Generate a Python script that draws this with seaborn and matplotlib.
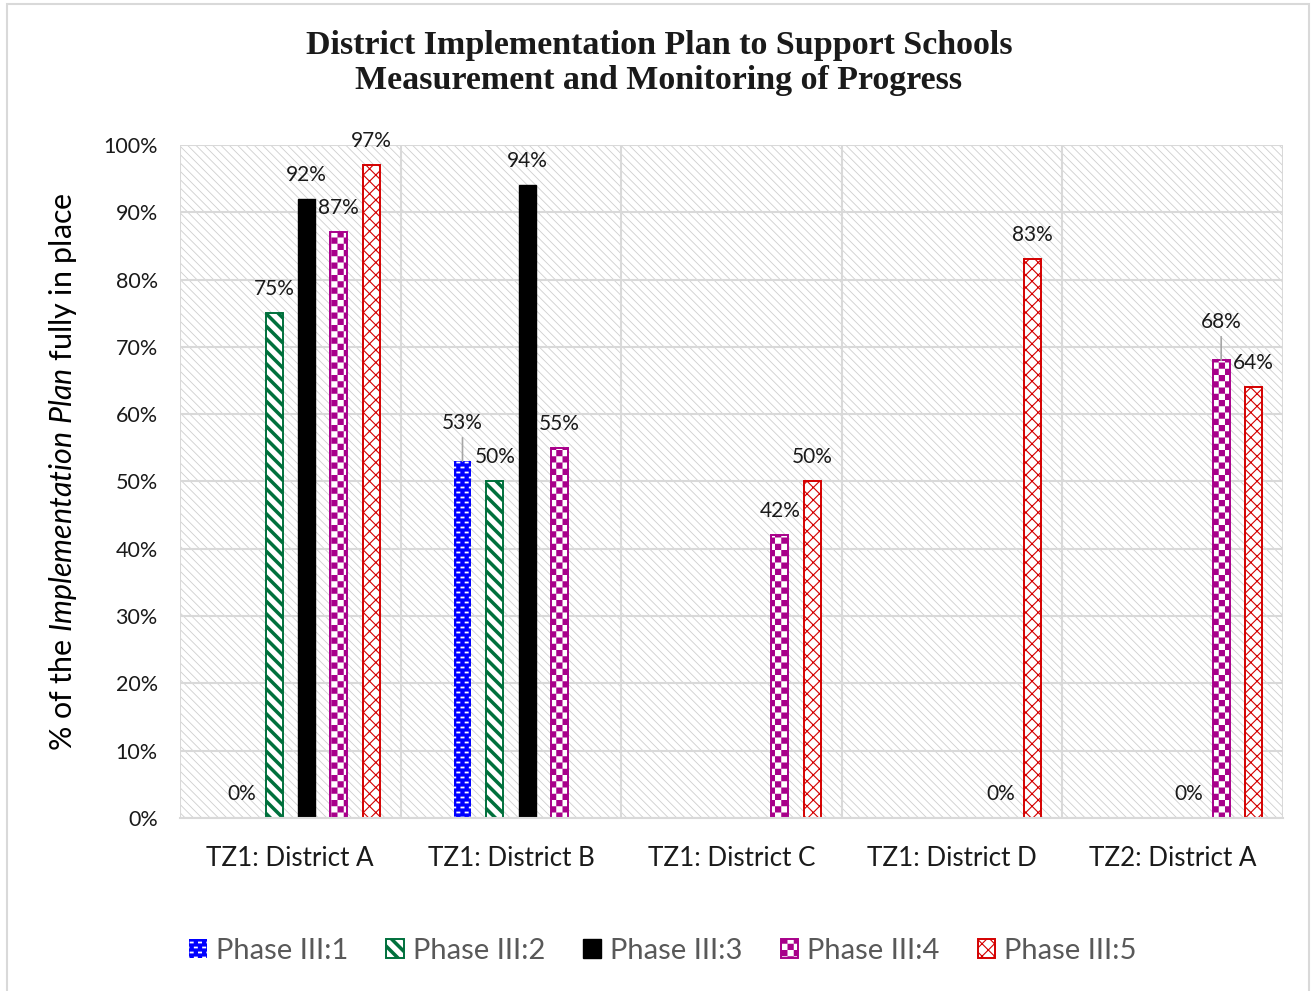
import warnings

import numpy as np
import pandas as pd
import matplotlib
matplotlib.use("Agg")
import matplotlib.pyplot as plt
import matplotlib.hatch as mhatch
from matplotlib.colors import to_rgba
from matplotlib.patches import Patch, Rectangle
from matplotlib.path import Path
from matplotlib.ticker import PercentFormatter, FixedLocator
import seaborn as sns

warnings.filterwarnings("ignore", category=matplotlib.MatplotlibDeprecationWarning)

# ---------------------------------------------------------------- data
districts = ["TZ1: District A", "TZ1: District B", "TZ1: District C",
             "TZ1: District D", "TZ2: District A"]
phases = ["Phase III:1", "Phase III:2", "Phase III:3", "Phase III:4", "Phase III:5"]
nan = np.nan
phase1 = [0, 53, nan, nan, nan]
phase2 = [75, 50, nan, nan, nan]
phase3 = [92, 94, nan, nan, 0]
phase4 = [87, 55, 42, 0, 68]
phase5 = [97, nan, 50, 83, 64]
y_ticks = list(range(0, 101, 10))

# labels that sit higher and get a leader line
callouts = {("TZ1: District B", "Phase III:1"), ("TZ2: District A", "Phase III:4")}

SPACER = "(blank)"   # empty first slot in every cluster

# ---------------------------------------------------------------- custom fill patterns
def _ccw(poly):
    poly = np.asarray(poly, float)
    x, y = poly[:, 0], poly[:, 1]
    area = 0.5 * np.sum(x * np.roll(y, -1) - np.roll(x, -1) * y)
    return poly if area > 0 else poly[::-1]


def register_hatch(key, polys):
    polys = [_ccw(p) for p in polys]
    verts = np.concatenate([np.vstack([p, p[:1]]) for p in polys])
    codes = np.tile([Path.MOVETO, Path.LINETO, Path.LINETO, Path.LINETO,
                     Path.CLOSEPOLY], len(polys)).astype(Path.code_type)

    class _Tile(mhatch.HatchPatternBase):
        def __init__(self, hatch, density):
            self.num_vertices = len(verts) if (hatch and key in hatch) else 0

        def set_vertices_and_codes(self, vertices, codes_out):
            vertices[:] = verts
            codes_out[:] = codes

    mhatch._hatch_types.append(_Tile)


def diag_bands(n, width, down=True):
    polys = []
    for j in range(-n - 2, 2 * n + 3):
        c = j / n
        if down:   # "\" direction
            polys.append([(c - 1, 1), (c, 0), (c + width, 0), (c + width - 1, 1)])
        else:      # "/" direction
            polys.append([(c, 0), (c + 1, 1), (c + 1 + width, 1), (c + width, 0)])
    return polys


def checker(n):
    s = 1.0 / n
    return [[(i * s, j * s), ((i + 1) * s, j * s), ((i + 1) * s, (j + 1) * s), (i * s, (j + 1) * s)]
            for i in range(n) for j in range(n) if (i + j) % 2 == 0]


def bricks(rows, cols, w, h):
    polys = []
    for r in range(rows):
        y = (r + 0.5) / rows - h / 2
        shift = 0.5 / cols if r % 2 else 0.0
        for c in range(-1, cols + 1):
            x = (c + 0.5) / cols + shift - w / 2
            polys.append([(x, y), (x + w, y), (x + w, y + h), (x, y + h)])
    return polys


# one hatch tile is 72 pt = 100 px at dpi 100
register_hatch("k", diag_bands(12, 0.012, down=True))                         # plot-area texture
register_hatch("g", diag_bands(8, 0.05, down=True))                           # wide downward stripes
register_hatch("r", diag_bands(8, 0.016, True) + diag_bands(8, 0.016, False))  # lattice
register_hatch("c", checker(16))                                              # checkerboard
register_hatch("b", bricks(20, 12, 0.04, 0.018))                              # small bricks

# ---------------------------------------------------------------- styles
styles = {
    "Phase III:1": dict(facecolor="#0000FF", edgecolor="white", linewidth=0, hatch="b"),
    "Phase III:2": dict(facecolor="white", edgecolor="#00703C", linewidth=1.4, hatch="g"),
    "Phase III:3": dict(facecolor="black", edgecolor="black", linewidth=1.0, hatch=None),
    "Phase III:4": dict(facecolor="white", edgecolor="#A8008A", linewidth=1.4, hatch="c"),
    "Phase III:5": dict(facecolor="white", edgecolor="#D40000", linewidth=1.4, hatch="r"),
}
palette = {SPACER: "#777777", "Phase III:1": "#0000FF", "Phase III:2": "#00703C",
           "Phase III:3": "#000000", "Phase III:4": "#A8008A", "Phase III:5": "#D40000"}

# ---------------------------------------------------------------- table
series = dict(zip(phases, [phase1, phase2, phase3, phase4, phase5]))
rows = []
for ph, vals in series.items():
    for d, v in zip(districts, vals):
        if not np.isnan(v):
            rows.append({"district": d, "phase": ph, "value": v})
df = pd.DataFrame(rows)

# ---------------------------------------------------------------- figure
sns.set_style("white")
plt.rcParams["font.family"] = ["Lato", "DejaVu Sans"]
plt.rcParams["mathtext.fontset"] = "custom"
plt.rcParams["mathtext.rm"] = "Lato"
plt.rcParams["mathtext.it"] = "Lato:italic"
plt.rcParams["hatch.linewidth"] = 0.0

fig, ax = plt.subplots(figsize=(13.11, 9.91), dpi=100)
fig.subplots_adjust(left=0.1373, right=0.9787, bottom=0.1746, top=0.8537)

sns.barplot(data=df, x="district", y="value", hue="phase", order=districts,
            hue_order=[SPACER] + phases, palette=palette, saturation=1,
            width=0.878, gap=0.474, dodge=True, errorbar=None, legend=False, ax=ax)

# restyle bars according to their series
color_to_phase = {tuple(np.round(to_rgba(palette[p]), 3)): p for p in phases}
for p in ax.patches:
    ph = color_to_phase.get(tuple(np.round(p.get_facecolor(), 3)))
    if ph is None:
        continue
    st = styles[ph]
    p.set_facecolor(st["facecolor"])
    p.set_edgecolor(st["edgecolor"])
    p.set_linewidth(st["linewidth"])
    p.set_hatch(st["hatch"])
    p.set_zorder(2)
    p._phase = ph

# data labels
for p in ax.patches:
    ph = getattr(p, "_phase", None)
    if ph is None:
        continue
    xc = p.get_x() + p.get_width() / 2
    h = p.get_height()
    dist = districts[int(round(xc))]
    if (dist, ph) in callouts:
        ax.annotate(f"{h:.0f}%", xy=(xc, h), xytext=(0, 27.5), textcoords="offset points",
                    ha="center", va="center", fontsize=15, color="#1a1a1a", zorder=4,
                    arrowprops=dict(arrowstyle="-", color="#a6a6a6", lw=1.2,
                                    shrinkA=1, shrinkB=0))
    else:
        ax.annotate(f"{h:.0f}%", xy=(xc, h), xytext=(0, 17.5), textcoords="offset points",
                    ha="center", va="center", fontsize=15, color="#1a1a1a", zorder=4)

# plot-area texture
ax.set_facecolor("white")
ax.add_patch(Rectangle((0, 0), 1, 1, transform=ax.transAxes, facecolor="white",
                       edgecolor="#cfcfcf", linewidth=0, hatch="k", zorder=0.1))

# axes
ax.set_xlim(-0.5, len(districts) - 0.5)
ax.set_ylim(0, 100)
ax.set_yticks(y_ticks)
ax.yaxis.set_major_formatter(PercentFormatter(100, decimals=0))
ax.xaxis.set_minor_locator(FixedLocator(np.arange(-0.5, len(districts), 1.0)))
ax.set_axisbelow(True)
ax.grid(True, axis="y", which="major", color="#d9d9d9", linewidth=1.5, zorder=0.5)
ax.grid(True, axis="x", which="minor", color="#d9d9d9", linewidth=1.5, zorder=0.5)
ax.grid(False, axis="x", which="major")
for side in ("left", "right", "top"):
    ax.spines[side].set_visible(False)
ax.spines["bottom"].set_color("#d9d9d9")
ax.spines["bottom"].set_linewidth(1.5)
ax.tick_params(axis="both", which="both", length=0)
ax.tick_params(axis="y", labelsize=15.5, labelcolor="#1a1a1a", pad=16)
ax.tick_params(axis="x", labelsize=18.7, labelcolor="#1a1a1a", pad=20)
ax.set_xlabel("")
ax.set_ylabel("")

fig.text(63 / 1311, 0.524, r"% of the $\mathit{Implementation\ Plan}$ fully in place",
         rotation=90, ha="center", va="center", fontsize=21.9, color="black")

fig.text(0.5027, 0.9364, "District Implementation Plan to Support Schools\n"
         "Measurement and Monitoring of Progress",
         ha="center", va="center", fontsize=24.5, fontweight="bold",
         family="Liberation Serif", color="#1a1a1a", linespacing=1.16)

# legend
handles = [Patch(**styles[ph]) for ph in phases]
fig.legend(handles, phases, loc="center", bbox_to_anchor=(663 / 1311, 1 - 951 / 991),
           ncol=5, frameon=False, fontsize=21, labelcolor="#595959",
           handlelength=0.6, handleheight=0.6, handletextpad=0.31, columnspacing=1.31)

# chart frame
fig.add_artist(Rectangle((7 / 1311, -0.01), (1309 - 7) / 1311, 0.996 + 0.01,
                         transform=fig.transFigure, fill=False, edgecolor="#d9d9d9",
                         linewidth=1.5))

fig.savefig("out.png", dpi=100)
